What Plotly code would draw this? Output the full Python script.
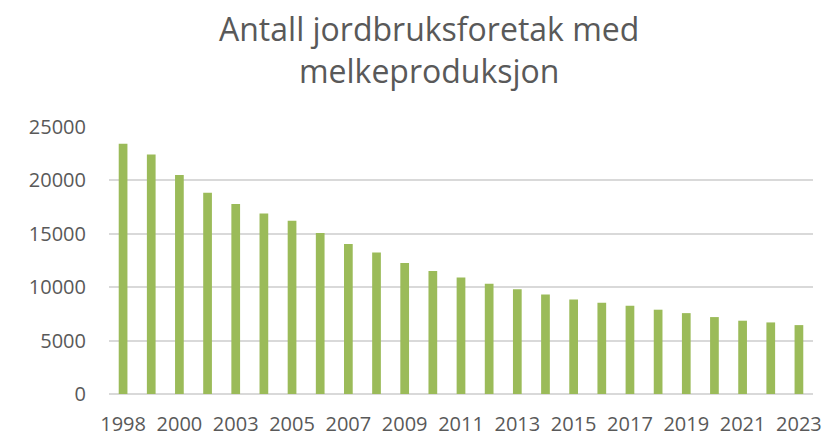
import plotly.graph_objects as go

years = ["1998", "1999", "2000", "2001", "2003", "2004", "2005", "2006", "2007",
         "2008", "2009", "2010", "2011", "2012", "2013", "2014", "2015", "2016",
         "2017", "2018", "2019", "2020", "2021", "2022", "2023"]
foretak = [23380, 22390, 20460, 18800, 17750, 16880, 16190, 15040, 14010,
           13230, 12240, 11490, 10900, 10300, 9780, 9310, 8840, 8530,
           8250, 7880, 7560, 7190, 6850, 6690, 6440]
shown_ticks = years[::2]
y_ticks = [0, 5000, 10000, 15000, 20000, 25000]

fig = go.Figure(go.Bar(x=years, y=foretak, marker_color="#9bbb59",
                       marker_line_width=0))

fig.update_layout(
    width=824, height=436,
    paper_bgcolor="white", plot_bgcolor="white",
    margin=dict(l=109, r=11, t=126, b=42),
    bargap=0.69,
    showlegend=False,
    font=dict(family="Open Sans, sans-serif", color="#595959", size=20),
)
fig.add_annotation(text="Antall jordbruksforetak med<br>melkeproduksjon",
                   xref="paper", yref="paper", x=0.4545, y=(394 - 49) / 268,
                   xanchor="center", yanchor="middle", showarrow=False,
                   font=dict(size=32, color="#595959"))
fig.update_xaxes(type="category", tickmode="array", tickvals=shown_ticks,
                 ticktext=shown_ticks, showgrid=False, showline=False,
                 ticks="", tickangle=0, automargin=False,
                 ticklabelstandoff=16)
fig.update_yaxes(range=[0, 25050], tickvals=y_ticks, tickformat="d",
                 showgrid=True, gridcolor="#d9d9d9", gridwidth=1.5,
                 zeroline=True, zerolinecolor="#d9d9d9", zerolinewidth=1.5,
                 ticks="", ticklabelstandoff=22, automargin=False)

# drop the default 8px body margin so the figure fills the window
fig.write_html("out.html", config={"displayModeBar": False},
               post_script="document.body.style.margin='0';")
